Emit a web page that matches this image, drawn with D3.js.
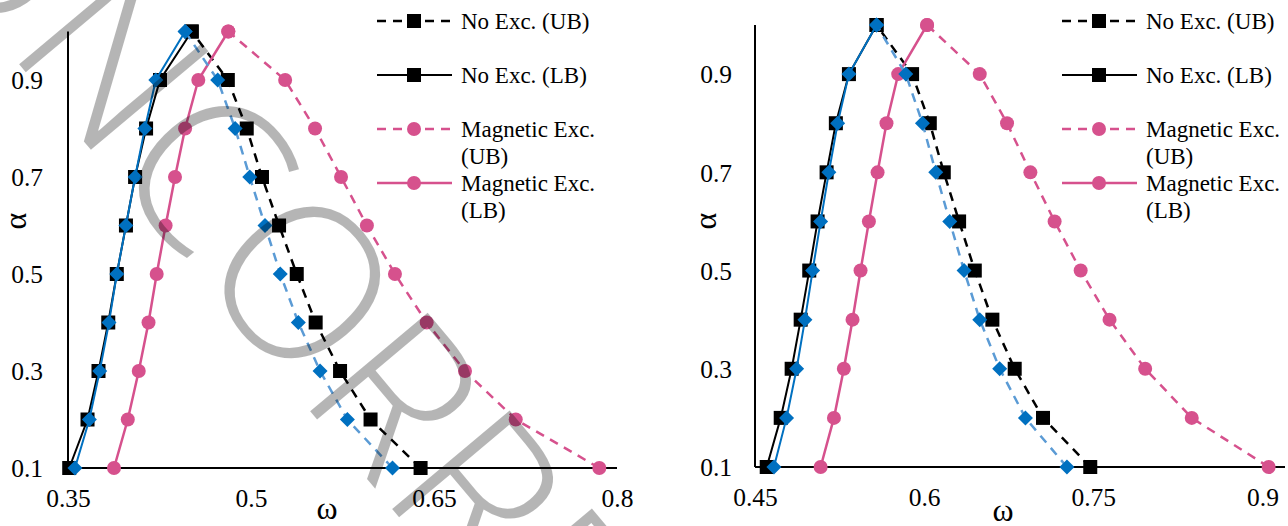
<!DOCTYPE html>
<html><head><meta charset="utf-8">
<script src="https://cdn.jsdelivr.net/npm/d3@7"></script>
<style>body{margin:0;background:#fff}svg{display:block}
svg text{font-family:"Liberation Serif","Times New Roman",serif;}
svg text.wm{font-family:"Open Sans","DejaVu Sans",sans-serif;}
</style>
</head><body>
<svg id="chart" width="1288" height="526"></svg>
<script>
// ---------- data ----------
const alphaLevels = [0.1, 0.2, 0.3, 0.4, 0.5, 0.6, 0.7, 0.8, 0.9, 1.0];
const yTickValues = [0.1, 0.3, 0.5, 0.7, 0.9];
const xTicksLeft = [0.35, 0.5, 0.65, 0.8];
const xTicksRight = [0.45, 0.6, 0.75, 0.9];
const legendLabels = [["No Exc. (UB)"], ["No Exc. (LB)"], ["Magnetic Exc.", "(UB)"], ["Magnetic Exc.", "(LB)"]];
const xAxisLabel = "ω";
const yAxisLabel = "α";
const watermarkText = "UNCORRECTED PROOF";

// left panel (omega at alpha = 0.1 ... 1.0)
const leftNoExcUB = [0.639, 0.598, 0.573, 0.553, 0.5375, 0.523, 0.509, 0.4965, 0.481, 0.4514];
const leftNoExcLB = [0.351, 0.366, 0.375, 0.383, 0.390, 0.3975, 0.405, 0.414, 0.4254, 0.4514];
const leftMagUB = [0.7855, 0.717, 0.6754, 0.644, 0.618, 0.595, 0.5738, 0.5525, 0.528, 0.4814];
const leftMagLB = [0.3877, 0.399, 0.408, 0.416, 0.4227, 0.430, 0.4377, 0.446, 0.4568, 0.4814];
const leftBlueUB = [0.616, 0.579, 0.5566, 0.5388, 0.524, 0.5115, 0.499, 0.487, 0.4727, 0.446];
const leftBlueLB = [0.3557, 0.3675, 0.376, 0.3836, 0.390, 0.3975, 0.405, 0.413, 0.422, 0.446];

// right panel
const rightNoExcUB = [0.7473, 0.7054, 0.6803, 0.6605, 0.6449, 0.631, 0.6174, 0.605, 0.5893, 0.5578];
const rightNoExcLB = [0.4604, 0.4728, 0.4825, 0.4905, 0.4981, 0.5055, 0.5135, 0.5217, 0.5333, 0.5578];
const rightMagUB = [0.9055, 0.8373, 0.796, 0.7644, 0.7388, 0.7157, 0.6942, 0.6735, 0.6493, 0.6026];
const rightMagLB = [0.5082, 0.52, 0.5288, 0.5365, 0.5436, 0.551, 0.5587, 0.5666, 0.577, 0.6026];
const rightBlueUB = [0.7266, 0.6898, 0.667, 0.6493, 0.6354, 0.6227, 0.6103, 0.5985, 0.5837, 0.5578];
const rightBlueLB = [0.4668, 0.478, 0.4869, 0.4943, 0.5011, 0.5082, 0.5155, 0.5233, 0.5333, 0.5578];

// ---------- styles ----------
const BLACK = "#000000", PINK = "#D6518D", BLUE = "#0070C0", LBLUE = "#5B9BD5";
const DASH = "9,7";

const svg = d3.select("#chart");

function seriesDefs(p) {
  return [
    {vals: p.noExcUB, line: BLACK, mark: BLACK, dash: true, shape: "square", lw: 2.5},
    {vals: p.noExcLB, line: BLACK, mark: BLACK, dash: false, shape: "square", lw: 2},
    {vals: p.magUB, line: PINK, mark: PINK, dash: true, shape: "circle", lw: 2.5},
    {vals: p.magLB, line: PINK, mark: PINK, dash: false, shape: "circle", lw: 2.5},
    {vals: p.blueUB, line: LBLUE, mark: BLUE, dash: true, shape: "diamond", lw: 2.5},
    {vals: p.blueLB, line: BLUE, mark: BLUE, dash: false, shape: "diamond", lw: 2}
  ];
}

function drawMarker(g, shape, cx, cy, color) {
  if (shape === "square") {
    g.append("rect").attr("x", cx - 7).attr("y", cy - 7).attr("width", 14).attr("height", 14).attr("fill", color);
  } else if (shape === "circle") {
    g.append("circle").attr("cx", cx).attr("cy", cy).attr("r", 7).attr("fill", color);
  } else {
    const r = 7.5;
    g.append("path").attr("d", `M${cx},${cy - r}L${cx + r},${cy}L${cx},${cy + r}L${cx - r},${cy}Z`).attr("fill", color);
  }
}

function drawPanel(p) {
  const g = svg.append("g");
  const x = d3.scaleLinear().domain(p.xDomain).range([p.left, p.right]);
  const y = d3.scaleLinear().domain([0.1, 1.0]).range([p.bottom, p.top]);

  const yAxis = d3.axisLeft(y).tickValues(yTickValues).tickSize(0).tickPadding(p.yPad).tickFormat(d3.format(".1f"));
  const ya = g.append("g").attr("transform", `translate(${p.left},0)`).call(yAxis);
  ya.attr("font-family", null).attr("font-size", null);
  ya.select(".domain").attr("stroke", "#000").attr("stroke-width", 2).attr("d", `M0,${p.top}V${p.bottom}`);
  ya.selectAll("text").attr("font-size", 25.5).attr("fill", "#000").attr("dy", "0.34em");

  const xAxis = d3.axisBottom(x).tickValues(p.xTicks).tickSize(0).tickPadding(0).tickFormat(d => String(d));
  const xa = g.append("g").attr("transform", `translate(0,${p.bottom})`).call(xAxis);
  xa.attr("font-family", null).attr("font-size", null);
  xa.select(".domain").attr("stroke", "#000").attr("stroke-width", 2).attr("d", `M${p.left},0H${p.right}`);
  xa.selectAll("text").attr("font-size", 25.5).attr("fill", "#000").attr("dy", null).attr("y", 39);

  g.append("text").attr("transform", `translate(${p.yTitleX},${p.yTitleY}) rotate(-90)`)
    .attr("text-anchor", "middle").attr("font-size", 32).text(yAxisLabel);
  g.append("text").attr("x", p.xTitleX).attr("y", p.xTitleY)
    .attr("text-anchor", "middle").attr("font-size", 32).text(xAxisLabel);

  const line = d3.line().x(d => x(d[0])).y(d => y(d[1]));
  seriesDefs(p).forEach(s => {
    const pts = s.vals.map((v, i) => [v, alphaLevels[i]]);
    const sg = g.append("g");
    sg.append("path").attr("d", line(pts)).attr("fill", "none").attr("stroke", s.line)
      .attr("stroke-width", s.lw).attr("stroke-dasharray", s.dash ? DASH : null);
    pts.forEach(pt => drawMarker(sg, s.shape, x(pt[0]), y(pt[1]), s.mark));
  });

  const defs = seriesDefs(p).slice(0, 4);
  const rowY = [21, 75, 129, 183];
  defs.forEach((s, i) => {
    const lg = g.append("g");
    const yy = rowY[i];
    lg.append("line").attr("x1", p.legX).attr("x2", p.legX + 75).attr("y1", yy).attr("y2", yy)
      .attr("stroke", s.line).attr("stroke-width", s.lw).attr("stroke-dasharray", s.dash ? DASH : null);
    drawMarker(lg, s.shape, p.legX + 37, yy, s.mark);
    legendLabels[i].forEach((t, k) => {
      lg.append("text").attr("x", p.legX + 84).attr("y", yy + k * 27).attr("dy", "0.35em")
        .attr("font-size", 23).attr("fill", "#000").text(t);
    });
  });
}

drawPanel({
  xDomain: [0.35, 0.8], left: 68, right: 617, top: 31.5, bottom: 468, xTicks: xTicksLeft, yPad: 25,
  yTitleX: 26, yTitleY: 221, xTitleX: 327, xTitleY: 519, legX: 377,
  noExcUB: leftNoExcUB, noExcLB: leftNoExcLB, magUB: leftMagUB, magLB: leftMagLB, blueUB: leftBlueUB, blueLB: leftBlueLB
});
drawPanel({
  xDomain: [0.45, 0.92], left: 755, right: 1285, top: 25, bottom: 467, xTicks: xTicksRight, yPad: 23,
  yTitleX: 716, yTitleY: 221, xTitleX: 1003, xTitleY: 521, legX: 1062,
  noExcUB: rightNoExcUB, noExcLB: rightNoExcLB, magUB: rightMagUB, magLB: rightMagLB, blueUB: rightBlueUB, blueLB: rightBlueLB
});

// watermark
const wmSize = 215, wmAngle = 50;
const wm = svg.append("text").attr("class", "wm")
  .attr("font-weight", 350).attr("font-size", wmSize).attr("fill", "#000").attr("fill-opacity", 0.29)
  .attr("x", 0).attr("y", 0).text(watermarkText);
const sp = wm.node().getStartPositionOfChar(2);
const ep = wm.node().getEndPositionOfChar(2);
const lx = (sp.x + ep.x) / 2, ly = -0.36 * wmSize;
const rad = wmAngle * Math.PI / 180;
const rx = lx * Math.cos(rad) - ly * Math.sin(rad), ry = lx * Math.sin(rad) + ly * Math.cos(rad);
wm.attr("transform", `translate(${207 - rx},${168 - ry}) rotate(${wmAngle})`);
</script>
</body></html>
